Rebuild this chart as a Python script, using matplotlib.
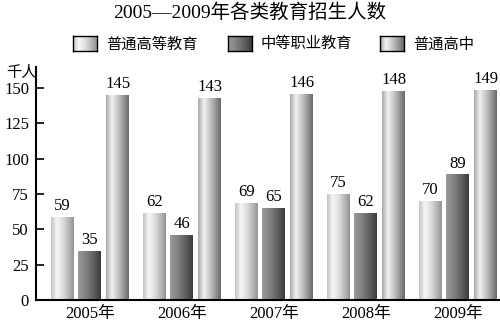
import numpy as np
import matplotlib.pyplot as plt
from matplotlib.colors import LinearSegmentedColormap

years = ['2005年', '2006年', '2007年', '2008年', '2009年']
series_names = ['普通高等教育', '中等职业教育', '普通高中']
higher_edu = [59, 62, 69, 75, 70]
vocational = [35, 46, 65, 62, 89]
high_school = [145, 143, 146, 148, 149]
yticks = [0, 25, 50, 75, 100, 125, 150]

plt.rcParams['font.family'] = ['Liberation Serif', 'Noto Sans CJK SC']

# horizontal gradients imitating the shaded cylinders
cmaps = [
    LinearSegmentedColormap.from_list('c1', [(0, '#c4c4c4'), (0.25, '#f7f7f7'), (0.55, '#dadada'), (1, '#949494')]),
    LinearSegmentedColormap.from_list('c2', [(0, '#9a9a9a'), (0.3, '#858585'), (0.7, '#5e5e5e'), (1, '#3c3c3c')]),
    LinearSegmentedColormap.from_list('c3', [(0, '#a8a8a8'), (0.25, '#f2f2f2'), (0.6, '#b8b8b8'), (1, '#6a6a6a')]),
]
grad = np.linspace(0, 1, 64).reshape(1, -1)

fig = plt.figure(figsize=(5, 3.22), dpi=100)
ax = fig.add_axes([0.072, 0.068, 0.928, 0.724])

x = np.arange(len(years))
width = 0.25
offsets = [-0.3, 0, 0.3]
for k, vals in enumerate([higher_edu, vocational, high_school]):
    bars = ax.bar(x + offsets[k], vals, width, color='none', edgecolor='none', zorder=2)
    for b, v in zip(bars, vals):
        x0, y0 = b.get_x(), b.get_y()
        im = ax.imshow(grad, cmap=cmaps[k], aspect='auto', extent=(x0, x0 + b.get_width(), y0, y0 + b.get_height()),
                       zorder=2, interpolation='bilinear')
        im.set_clip_path(b)
        ax.text(b.get_x() + b.get_width() / 2, v + 2, str(v), ha='center', va='bottom', fontsize=12)

ax.set_xlim(-0.587, 4.457)
ax.set_ylim(0, 165)
ax.set_yticks(yticks)
ax.set_xticks(x)
ax.set_xticklabels(years, fontsize=12)
ax.tick_params(axis='y', direction='in', length=6, width=1.2, labelsize=12, pad=5)
ax.tick_params(axis='x', length=0, pad=4)
for s in ['top', 'right']:
    ax.spines[s].set_visible(False)
ax.spines['left'].set_linewidth(1.5)
ax.spines['bottom'].set_linewidth(1.5)

fig.text(0.5, 0.962, '2005—2009年各类教育招生人数', ha='center', va='center', fontsize=14)
fig.text(0.012, 0.775, '千人', ha='left', va='center', fontsize=11, family=['Noto Sans CJK SC'])

# legend boxes with the same gradients
box_x = [0.146, 0.456, 0.76]
for k, name in enumerate(series_names):
    lax = fig.add_axes([box_x[k], 0.842, 0.048, 0.045])
    lax.imshow(grad, cmap=cmaps[k], aspect='auto', interpolation='bilinear')
    lax.set_xticks([])
    lax.set_yticks([])
    for s in lax.spines.values():
        s.set_linewidth(1.0)
    fig.text(box_x[k] + 0.066, 0.864, name, ha='left', va='center', fontsize=11,
             family=['Noto Sans CJK SC'])

fig.savefig('out.png', dpi=100)
